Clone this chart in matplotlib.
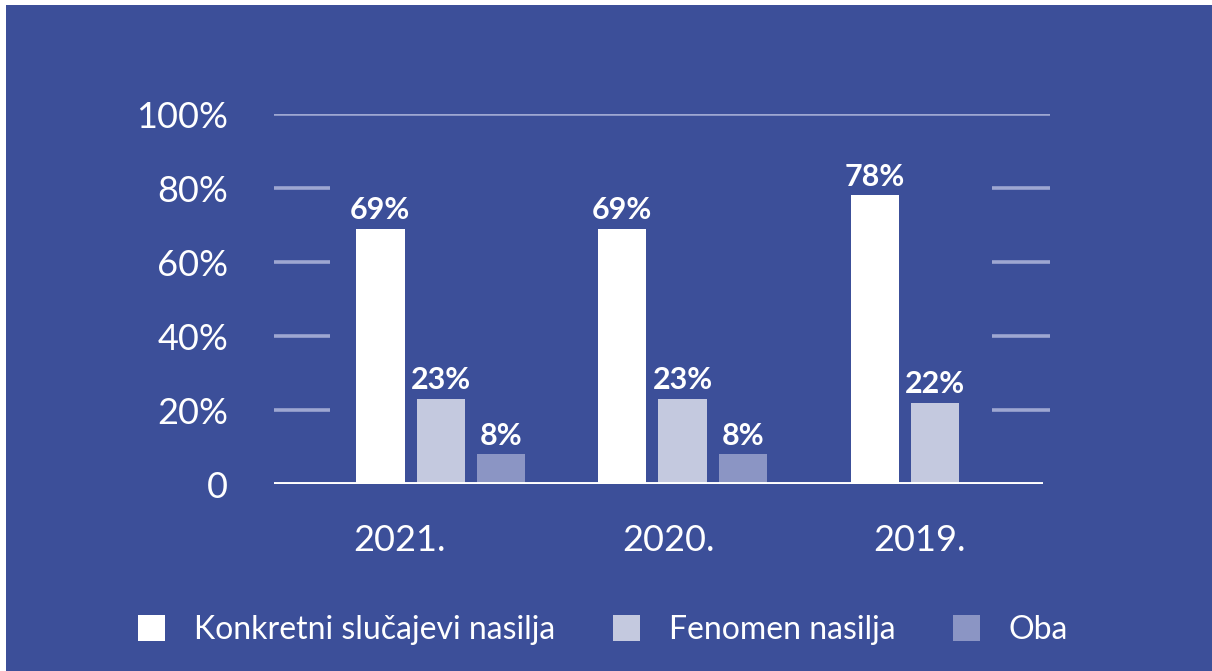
import matplotlib
matplotlib.use("Agg")
import matplotlib.pyplot as plt
from matplotlib.patches import Rectangle, Patch
import numpy as np

# data
years = ["2021.", "2020.", "2019."]
series = ["Konkretni slučajevi nasilja", "Fenomen nasilja", "Oba"]
konkretni = [69, 69, 78]
fenomen = [23, 23, 22]
oba = [8, 8, None]
y_ticks = [0, 20, 40, 60, 80, 100]
y_tick_labels = ["0", "20%", "40%", "60%", "80%", "100%"]

BG = "#3c4f99"
COLORS = ["#ffffff", "#c4c9df", "#8b95c4"]
GRID = "#9ea7d1"

plt.rcParams["font.family"] = ["Lato", "DejaVu Sans"]

fig = plt.figure(figsize=(12.12, 6.71), dpi=100, facecolor=BG)
# thin white margin top/left as in the source
fig.patches.append(Rectangle((0, 0), 6 / 1212, 1, transform=fig.transFigure,
                             facecolor="white", edgecolor="none"))
fig.patches.append(Rectangle((0, 1 - 5 / 671), 1, 5 / 671, transform=fig.transFigure,
                             facecolor="white", edgecolor="none"))

ax = fig.add_axes([274 / 1212, 1 - 484 / 671, (1050 - 274) / 1212, (484 - 114) / 671])
ax.set_facecolor("none")

# group centres (last group sits a touch to the right in the source layout)
x = np.array([0.0, 1.0, 2.045])
w = 0.2
step = 0.25
xmin, xmax = -0.69, 2.52

for i, (vals, col) in enumerate(zip([konkretni, fenomen, oba], COLORS)):
    for xi, v in zip(x, vals):
        if v is None:
            continue
        xpos = xi + (i - 1) * step
        ax.bar(xpos, v, width=w, color=col, zorder=3)
        ax.text(xpos, v + 1.3, f"{v}%", ha="center", va="bottom",
                color="white", fontsize=22, fontweight="bold", zorder=4)

# short grid segments at the outer edges, full line at 100%
for yv in y_ticks[1:-1]:
    ax.hlines(yv, xmin, -0.459, color=GRID, lw=2.6, zorder=1)
    ax.hlines(yv, 2.28, xmax, color=GRID, lw=2.6, zorder=1)
ax.hlines(100, xmin, xmax, color=GRID, lw=2.6, zorder=1)
ax.hlines(0, xmin, 2.49, color="white", lw=2.8, zorder=5)

ax.set_xlim(xmin, xmax)
ax.set_ylim(0, 100)
ax.set_yticks(y_ticks)
ax.set_yticklabels(y_tick_labels)
# year labels are not centred on their groups in the source
ax.set_xticks([-0.17, 0.94, 1.98])
ax.set_xticklabels(years)
ax.tick_params(axis="y", length=0, pad=33, labelsize=26, labelcolor="white")
ax.tick_params(axis="x", length=0, pad=29, labelsize=26, labelcolor="white")
for s in ax.spines.values():
    s.set_visible(False)

handles = [Patch(facecolor=c, edgecolor="none") for c in COLORS]
leg = fig.legend(handles, series, loc="center", bbox_to_anchor=(603 / 1212, 1 - 630 / 671),
                 ncol=3, frameon=False, handlelength=0.85, handleheight=0.85,
                 handletextpad=0.9, columnspacing=1.8, labelcolor="white",
                 prop={"size": 23})

fig.savefig("out.png", dpi=100, facecolor=BG)
